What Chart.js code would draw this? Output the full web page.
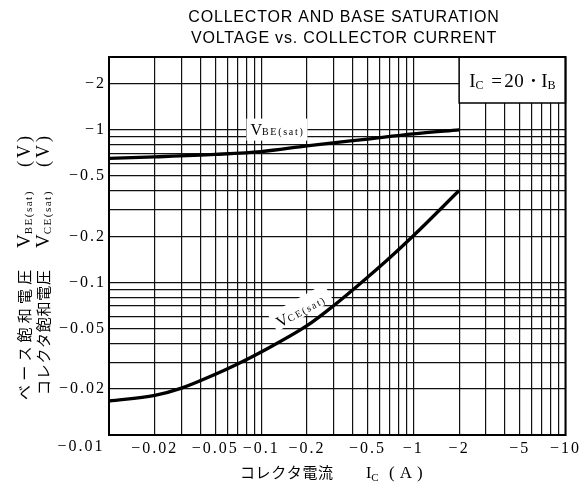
<!DOCTYPE html>
<html lang="ja">
<head>
<meta charset="UTF-8">
<title>Collector and base saturation voltage vs. collector current</title>
<script src="https://cdn.jsdelivr.net/npm/chart.js@4"></script>
<style>
  body { margin: 0; background: #fff; }
  canvas { display: block; }
</style>
</head>
<body>
<canvas id="satChart" width="582" height="486"></canvas>
<script>
  // collector current Ic (A, magnitude) and saturation voltages (V, magnitude)
  const icBE = [0.01, 0.02, 0.05, 0.1, 0.2, 0.5, 1, 2];
  const vBE  = [0.65, 0.665, 0.69, 0.72, 0.785, 0.87, 0.94, 1.0];
  const icCE = [0.01, 0.02, 0.03, 0.05, 0.07, 0.1, 0.2, 0.3, 0.5, 0.7, 1, 2];
  const vCE  = [0.0167, 0.0182, 0.0203, 0.025, 0.0292, 0.035, 0.052, 0.0705, 0.108, 0.145, 0.202, 0.4];

  // grid lines of the log paper
  const xGrid = [0.01, 0.02, 0.03, 0.04, 0.05, 0.06, 0.07, 0.08, 0.09,
                 0.1, 0.2, 0.3, 0.4, 0.5, 0.6, 0.7, 0.8, 0.9,
                 1, 2, 3, 4, 5, 6, 7, 8, 9, 10];
  const yGrid = [0.01, 0.02, 0.03, 0.04, 0.05, 0.06, 0.07, 0.08, 0.09,
                 0.1, 0.2, 0.3, 0.4, 0.5, 0.6, 0.7, 0.8, 0.9,
                 1, 2, 3];

  // labelled ticks
  const xTickVals   = [0.02, 0.05, 0.1, 0.2, 0.5, 1, 2, 5, 10];
  const xTickLabels = ['−0.02', '−0.05', '−0.1', '−0.2', '−0.5', '−1', '−2', '−5', '−10'];
  const yTickVals   = [0.02, 0.05, 0.1, 0.2, 0.5, 1, 2];
  const yTickLabels = ['−0.02', '−0.05', '−0.1', '−0.2', '−0.5', '−1', '−2'];
  const cornerLabel = '−0.01';

  const SERIF = '"Liberation Serif", "DejaVu Serif", serif';
  const SANS = '"Liberation Sans", Arial, sans-serif';
  const JP = '"Noto Sans CJK JP", sans-serif';

  function labelFor(v, vals, labels) {
    for (let i = 0; i < vals.length; i++) {
      if (Math.abs(vals[i] - v) / vals[i] < 1e-6) return labels[i];
    }
    return '';
  }

  // draws a row of text pieces (normal + subscript) starting at x
  function drawParts(ctx, parts, x, y) {
    parts.forEach(p => {
      ctx.font = p.font;
      ctx.letterSpacing = '0px';
      const w = ctx.measureText(p.t).width + (p.ls || 0) * p.t.length;
      ctx.letterSpacing = (p.ls || 0) + 'px';
      const px = p.at !== undefined ? p.at : x;
      ctx.fillText(p.t, px, y + (p.dy || 0));
      x = px + w + (p.gap || 0);
    });
    return x;
  }

  const decor = {
    id: 'decor',
    beforeDraw(chart) {
      chart.ctx.letterSpacing = '2px';
    },
    beforeDatasetsDraw(chart) {
      const ctx = chart.ctx;
      const a = chart.chartArea;
      const xs = chart.scales.x, ys = chart.scales.y;
      ctx.save();
      ctx.fillStyle = '#000';
      ctx.textBaseline = 'alphabetic';
      ctx.textAlign = 'left';

      // V_BE(sat) label with white patch
      const bx = xs.getPixelForValue(0.085), by = ys.getPixelForValue(0.93);
      ctx.fillStyle = '#fff';
      ctx.fillRect(bx - 4, by - 16, 61, 22);
      ctx.fillStyle = '#000';
      drawParts(ctx, [
        { t: 'V', font: '16px ' + SERIF },
        { t: 'BE(sat)', font: '10px ' + SERIF, ls: 1.7, dy: 0 }
      ], bx, by);

      // V_CE(sat) label, rotated along the curve
      ctx.save();
      ctx.translate(xs.getPixelForValue(0.185), ys.getPixelForValue(0.066));
      ctx.rotate(-29 * Math.PI / 180);
      ctx.fillStyle = '#fff';
      ctx.fillRect(-32, -12, 64, 19);
      ctx.fillStyle = '#000';
      drawParts(ctx, [
        { t: 'V', font: '16px ' + SERIF },
        { t: 'CE(sat)', font: '10px ' + SERIF, ls: 1.7, dy: 0 }
      ], -28, 5);
      ctx.restore();

      // condition box, top right
      const kx = xs.getPixelForValue(2);
      const kb = 103;
      ctx.fillStyle = '#fff';
      ctx.fillRect(kx, a.top, a.right - kx, kb - a.top);
      ctx.strokeStyle = '#000';
      ctx.lineWidth = 1.5;
      ctx.strokeRect(kx, a.top, a.right - kx, kb - a.top);
      ctx.fillStyle = '#000';
      drawParts(ctx, [
        { t: 'I', font: '19px ' + SERIF, at: kx + 10 },
        { t: 'C', font: '12px ' + SERIF, dy: 2 },
        { t: '=', font: '19px ' + SERIF, at: kx + 32 },
        { t: '20', font: '19px ' + SERIF, at: kx + 45, ls: 0.5 },
        { t: '·', font: 'bold 19px ' + SERIF, at: kx + 71 },
        { t: 'I', font: '19px ' + SERIF, at: kx + 82 },
        { t: 'B', font: '12px ' + SERIF, dy: 2 }
      ], kx + 10, 87);

      // plot frame
      ctx.lineWidth = 2;
      ctx.strokeRect(a.left, a.top, a.right - a.left, a.bottom - a.top);
      ctx.restore();
    },
    afterDraw(chart) {
      const ctx = chart.ctx;
      ctx.save();
      ctx.fillStyle = '#000';

      // title
      ctx.textAlign = 'center';
      ctx.textBaseline = 'middle';
      ctx.font = '16px ' + SANS;
      ctx.letterSpacing = '0.8px';
      ctx.fillText('COLLECTOR AND BASE SATURATION', 344, 18);
      ctx.fillText('VOLTAGE vs. COLLECTOR CURRENT', 344, 38.5);

      // shared corner tick label
      ctx.font = '16px ' + SERIF;
      ctx.letterSpacing = '2px';
      ctx.fillText(cornerLabel, 81, 447);

      // x axis title
      ctx.textAlign = 'left';
      ctx.textBaseline = 'alphabetic';
      drawParts(ctx, [
        { t: 'コレクタ電流', font: '15px ' + JP, ls: 0.6, at: 240 },
        { t: 'I', font: '16px ' + SERIF, at: 366 },
        { t: 'C', font: '11px ' + SERIF, dy: 3 },
        { t: '(A)', font: '17px ' + SERIF, ls: 5, at: 389 }
      ], 240, 478);

      // y axis title, two rotated columns
      ctx.rotate(-Math.PI / 2);
      const cols = [
        { jp: 'ベース飽和電圧', sub: 'BE(sat)', base: 30, start: 400, ls: 4.2 },
        { jp: 'コレクタ飽和電圧', sub: 'CE(sat)', base: 49, start: 395, ls: 0.7 }
      ];
      cols.forEach(c => {
        drawParts(ctx, [
          { t: c.jp, font: '15px ' + JP, ls: c.ls, at: -c.start },
          { t: 'V', font: '19px ' + SERIF, at: -248 },
          { t: c.sub, font: '11px ' + SERIF, ls: 1.5, dy: 2 },
          { t: '(V)', font: '18px ' + SERIF, ls: 3, at: -167 }
        ], -c.start, c.base);
      });
      ctx.restore();
    }
  };

  new Chart(document.getElementById('satChart').getContext('2d'), {
    type: 'line',
    data: {
      datasets: [
        {
          label: 'VBE(sat)',
          data: icBE.map((x, i) => ({ x: x, y: vBE[i] })),
          borderColor: '#000',
          borderWidth: 3.3,
          pointRadius: 0,
          fill: false,
          cubicInterpolationMode: 'monotone'
        },
        {
          label: 'VCE(sat)',
          data: icCE.map((x, i) => ({ x: x, y: vCE[i] })),
          borderColor: '#000',
          borderWidth: 3.3,
          pointRadius: 0,
          fill: false,
          cubicInterpolationMode: 'monotone'
        }
      ]
    },
    options: {
      responsive: false,
      animation: false,
      layout: { padding: { top: 57, right: 15, left: 0, bottom: 0 } },
      plugins: {
        legend: { display: false },
        title: { display: false },
        tooltip: { enabled: false }
      },
      scales: {
        x: {
          type: 'logarithmic',
          min: 0.01,
          max: 10,
          afterBuildTicks: s => { s.ticks = xGrid.map(v => ({ value: v })); },
          afterFit: s => { s.height = 51; },
          grid: { color: '#111', lineWidth: 1.2, drawTicks: false },
          border: { color: '#000', width: 2 },
          ticks: {
            autoSkip: false, maxRotation: 0, minRotation: 0, padding: 4,
            color: '#000', font: { family: SERIF, size: 16 },
            callback: v => labelFor(v, xTickVals, xTickLabels)
          }
        },
        y: {
          type: 'logarithmic',
          min: 0.01,
          max: 3,
          afterBuildTicks: s => { s.ticks = yGrid.map(v => ({ value: v })); },
          afterFit: s => { s.width = 109; },
          grid: { color: '#111', lineWidth: 1.2, drawTicks: false },
          border: { color: '#000', width: 2 },
          ticks: {
            autoSkip: false, padding: 3,
            color: '#000', font: { family: SERIF, size: 16 },
            callback: v => labelFor(v, yTickVals, yTickLabels)
          }
        }
      }
    },
    plugins: [decor]
  });
</script>
</body>
</html>
